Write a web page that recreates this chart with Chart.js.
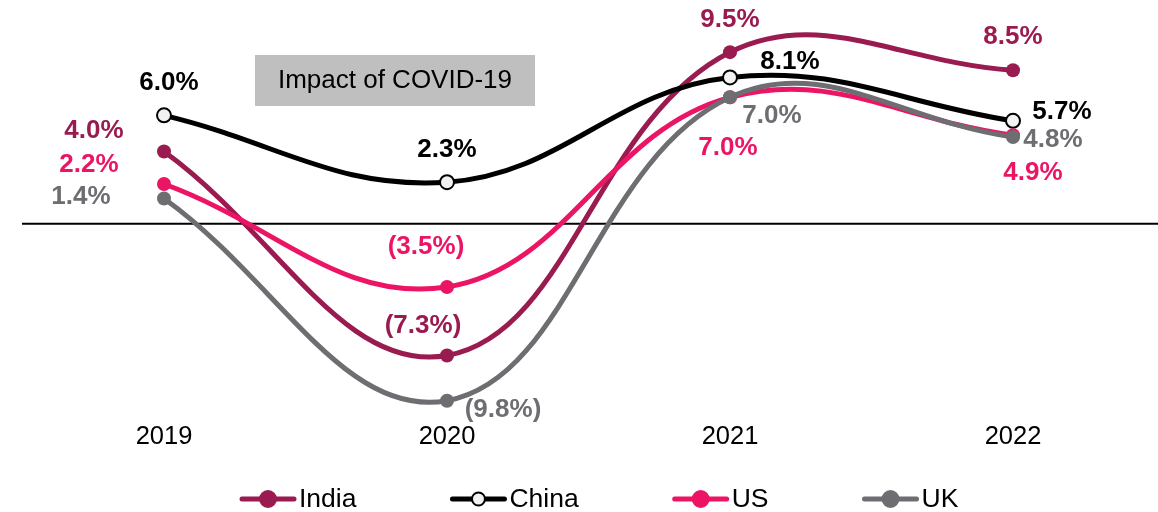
<!DOCTYPE html>
<html>
<head>
<meta charset="utf-8">
<script src="https://cdn.jsdelivr.net/npm/chart.js@4.4.0/dist/chart.umd.min.js"></script>
<style>
  html, body { margin: 0; padding: 0; background: #fff; }
  #wrap { width: 1158px; height: 512px; position: relative; }
</style>
</head>
<body>
<div id="wrap"><canvas id="growthChart"></canvas></div>
<script>
// GDP growth, % (negative shown in brackets)
const years = ['2019', '2020', '2021', '2022'];
const india = [4.0, -7.3, 9.5, 8.5];
const china = [6.0, 2.3, 8.1, 5.7];
const us    = [2.2, -3.5, 7.0, 4.9];
const uk    = [1.4, -9.8, 7.0, 4.8];
const noteText = 'Impact of COVID-19';

const FONT = '"Liberation Sans", Arial, sans-serif';

function fmt(v) {
  return v < 0 ? '(' + Math.abs(v).toFixed(1) + '%)' : v.toFixed(1) + '%';
}

// where each value label sits relative to its point (dx, dy)
const labelPos = {
  India: [[-70, -21], [-24, -30], [0, -32], [0, -33]],
  China: [[5, -33], [0, -32], [60, -16], [49, -9]],
  US:    [[-75, -19], [-21, -40], [-2, 51], [20, 38]],
  UK:    [[-83, -2], [56, 9], [42, 19], [40, 3]]
};

const backdrop = {
  id: 'backdrop',
  beforeDatasetsDraw(chart) {
    const ctx = chart.ctx;
    ctx.save();
    // zero line
    const y0 = chart.scales.y.getPixelForValue(0);
    ctx.strokeStyle = '#000';
    ctx.lineWidth = 2;
    ctx.beginPath();
    ctx.moveTo(22, y0);
    ctx.lineTo(chart.width, y0);
    ctx.stroke();
    // covid note
    ctx.fillStyle = '#BFBFBF';
    ctx.fillRect(255, 55, 280, 51);
    ctx.fillStyle = '#000';
    ctx.font = '26px ' + FONT;
    ctx.textAlign = 'center';
    ctx.textBaseline = 'middle';
    ctx.fillText(noteText, 395, 81);
    ctx.restore();
  }
};

const valueLabels = {
  id: 'valueLabels',
  afterDatasetsDraw(chart) {
    const ctx = chart.ctx;
    ctx.save();
    ctx.font = 'bold 26px ' + FONT;
    ctx.textAlign = 'center';
    ctx.textBaseline = 'middle';
    chart.data.datasets.forEach((ds, i) => {
      const meta = chart.getDatasetMeta(i);
      const pos = labelPos[ds.label];
      ctx.fillStyle = ds.labelColor;
      meta.data.forEach((pt, j) => {
        ctx.fillText(fmt(ds.data[j]), pt.x + pos[j][0], pt.y + pos[j][1]);
      });
    });
    ctx.restore();
  }
};

// legend: short line with a marker in the middle, then the name
const lineLegend = {
  id: 'lineLegend',
  afterDraw(chart) {
    const ctx = chart.ctx;
    const lineLen = 56, gap = 3, spacing = 94, yc = 499;
    let x = 240;
    ctx.save();
    ctx.font = '26.5px ' + FONT;
    ctx.textBaseline = 'middle';
    chart.data.datasets.forEach(ds => {
      ctx.strokeStyle = ds.borderColor;
      ctx.lineWidth = 5;
      ctx.lineCap = 'round';
      ctx.beginPath();
      ctx.moveTo(x + 2, yc);
      ctx.lineTo(x + lineLen - 2, yc);
      ctx.stroke();
      ctx.beginPath();
      ctx.arc(x + lineLen / 2, yc, 6.5, 0, Math.PI * 2);
      ctx.fillStyle = ds.pointBackgroundColor;
      ctx.fill();
      ctx.lineWidth = ds.pointBorderWidth;
      ctx.strokeStyle = ds.pointBorderColor;
      ctx.stroke();
      ctx.fillStyle = '#000';
      ctx.fillText(ds.label, x + lineLen + gap, yc + 1);
      x += lineLen + gap + ctx.measureText(ds.label).width + spacing;
    });
    ctx.restore();
  }
};

function series(label, data, color, fill, order) {
  return {
    label: label,
    data: data,
    borderColor: color,
    backgroundColor: color,
    labelColor: color,
    pointBackgroundColor: fill,
    pointBorderColor: color,
    pointBorderWidth: fill === color ? 0 : 2,
    pointRadius: 7,
    borderWidth: 5,
    tension: 0.4,
    order: order,
    clip: false
  };
}

new Chart(document.getElementById('growthChart'), {
  type: 'line',
  data: {
    labels: years,
    datasets: [
      series('India', india, '#9A1B50', '#9A1B50', 4),
      series('China', china, '#000000', '#F2F2F2', 3),
      series('US', us, '#EC1565', '#EC1565', 2),
      series('UK', uk, '#6E6E72', '#6E6E72', 1)
    ]
  },
  options: {
    responsive: true,
    maintainAspectRatio: false,
    animation: false,
    layout: { autoPadding: false, padding: { left: 22.5, right: 3.5, top: 7, bottom: 61 } },
    plugins: {
      legend: { display: false },
      tooltip: { enabled: false }
    },
    scales: {
      x: {
        offset: true,
        grid: { display: false, drawTicks: false },
        border: { display: false },
        ticks: { color: '#000', font: { family: FONT, size: 25.5 }, padding: -1 }
      },
      y: {
        display: false,
        min: -11,
        max: 12
      }
    }
  },
  plugins: [backdrop, valueLabels, lineLegend]
});
</script>
</body>
</html>
